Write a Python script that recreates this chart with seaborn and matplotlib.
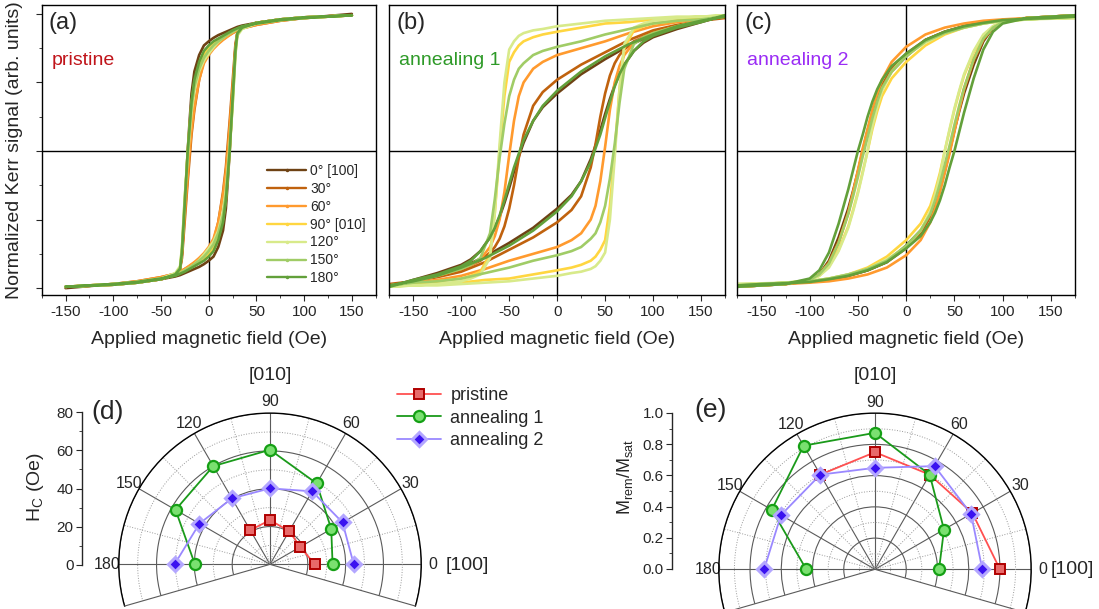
import numpy as np
import pandas as pd
import matplotlib
matplotlib.use("Agg")
import matplotlib.pyplot as plt
import seaborn as sns
from matplotlib.lines import Line2D
from matplotlib.ticker import MultipleLocator, FixedLocator

sns.set_style("ticks")
plt.rcParams["font.family"] = ["Liberation Sans", "DejaVu Sans"]
plt.rcParams["mathtext.fontset"] = "custom"
plt.rcParams["mathtext.rm"] = "Liberation Sans"
plt.rcParams["mathtext.it"] = "Liberation Sans:italic"
plt.rcParams["axes.unicode_minus"] = False

# in-plane angles of the Kerr loops
angle_labels = ["0° [100]", "30°", "60°", "90° [010]", "120°", "150°", "180°"]
loop_colors = ["#6e4214", "#c0620e", "#ff9a2e", "#ffd640", "#d8ea8a", "#a0cc66", "#62a03a"]

# rising branch of each loop (field in Oe, normalized Kerr signal); falling branch is the mirror
field_a = [-150, -100, -75, -50, -35, -30, -25, -20, -15, -10, -5, 0, 5, 10, 15, 18, 20, 22, 25, 28, 30, 35, 50, 75, 100, 150]
rise_a = [
    [-1.0, -0.97, -0.955, -0.935, -0.915, -0.905, -0.89, -0.875, -0.86, -0.845, -0.825, -0.80, -0.77, -0.70, -0.58, -0.42, -0.22, 0.0, 0.40, 0.75, 0.86, 0.90, 0.935, 0.96, 0.975, 0.99],
    [-0.99, -0.97, -0.95, -0.92, -0.895, -0.88, -0.86, -0.84, -0.815, -0.79, -0.755, -0.72, -0.66, -0.52, -0.30, -0.12, 0.05, 0.22, 0.50, 0.78, 0.86, 0.90, 0.935, 0.96, 0.975, 0.99],
    [-0.99, -0.97, -0.95, -0.92, -0.895, -0.88, -0.86, -0.835, -0.81, -0.78, -0.745, -0.70, -0.64, -0.52, -0.32, -0.15, 0.0, 0.18, 0.45, 0.75, 0.85, 0.90, 0.935, 0.96, 0.975, 0.99],
    [-0.99, -0.97, -0.955, -0.93, -0.905, -0.89, -0.875, -0.855, -0.83, -0.805, -0.78, -0.75, -0.70, -0.62, -0.50, -0.35, -0.18, 0.0, 0.35, 0.72, 0.86, 0.90, 0.935, 0.96, 0.975, 0.99],
    [-0.99, -0.97, -0.955, -0.93, -0.905, -0.89, -0.87, -0.85, -0.825, -0.795, -0.755, -0.71, -0.66, -0.58, -0.44, -0.28, -0.12, 0.05, 0.33, 0.70, 0.84, 0.89, 0.93, 0.96, 0.975, 0.99],
    [-0.99, -0.97, -0.955, -0.93, -0.905, -0.89, -0.87, -0.85, -0.825, -0.80, -0.77, -0.73, -0.68, -0.60, -0.47, -0.32, -0.16, 0.02, 0.33, 0.71, 0.85, 0.90, 0.935, 0.96, 0.975, 0.99],
    [-0.99, -0.97, -0.955, -0.93, -0.91, -0.895, -0.88, -0.86, -0.84, -0.82, -0.80, -0.77, -0.73, -0.65, -0.52, -0.36, -0.18, 0.0, 0.38, 0.74, 0.86, 0.90, 0.935, 0.96, 0.975, 0.99],
]

field_b = [-175, -150, -125, -100, -75, -50, -25, 0, 15, 25, 35, 40, 45, 50, 55, 60, 65, 70, 80, 90, 100, 125, 150, 175]
rise_b = [
    [-0.98, -0.95, -0.91, -0.85, -0.77, -0.67, -0.56, -0.42, -0.32, -0.22, -0.06, 0.04, 0.15, 0.27, 0.38, 0.48, 0.56, 0.63, 0.73, 0.79, 0.83, 0.89, 0.94, 0.99],
    [-0.97, -0.95, -0.92, -0.88, -0.81, -0.72, -0.63, -0.52, -0.43, -0.33, -0.12, 0.05, 0.25, 0.42, 0.55, 0.64, 0.70, 0.74, 0.80, 0.83, 0.86, 0.91, 0.95, 0.99],
    [-0.98, -0.96, -0.94, -0.91, -0.86, -0.80, -0.75, -0.70, -0.65, -0.60, -0.50, -0.40, -0.22, 0.03, 0.30, 0.50, 0.62, 0.70, 0.79, 0.83, 0.86, 0.91, 0.95, 0.99],
    [-0.99, -0.97, -0.97, -0.96, -0.94, -0.93, -0.90, -0.87, -0.85, -0.83, -0.80, -0.77, -0.72, -0.65, -0.40, 0.0, 0.45, 0.75, 0.88, 0.91, 0.93, 0.95, 0.97, 0.99],
    [-0.99, -0.98, -0.98, -0.97, -0.96, -0.95, -0.93, -0.91, -0.89, -0.88, -0.86, -0.84, -0.80, -0.74, -0.50, -0.05, 0.45, 0.78, 0.90, 0.93, 0.95, 0.97, 0.98, 0.99],
    [-0.98, -0.96, -0.95, -0.93, -0.89, -0.85, -0.80, -0.76, -0.73, -0.70, -0.64, -0.60, -0.52, -0.40, -0.20, 0.05, 0.35, 0.60, 0.78, 0.83, 0.86, 0.91, 0.95, 0.99],
    [-0.98, -0.95, -0.91, -0.85, -0.78, -0.69, -0.58, -0.44, -0.33, -0.22, -0.08, 0.02, 0.12, 0.24, 0.36, 0.47, 0.56, 0.63, 0.73, 0.80, 0.84, 0.90, 0.94, 0.99],
]

field_c = [-175, -150, -125, -100, -80, -60, -40, -20, 0, 15, 25, 30, 35, 40, 45, 50, 55, 60, 70, 80, 90, 100, 125, 150, 175]
rise_c = [
    [-0.98, -0.97, -0.965, -0.955, -0.94, -0.91, -0.87, -0.81, -0.69, -0.58, -0.47, -0.38, -0.27, -0.14, 0.0, 0.15, 0.29, 0.42, 0.63, 0.80, 0.90, 0.94, 0.97, 0.98, 0.99],
    [-0.98, -0.97, -0.965, -0.955, -0.94, -0.91, -0.87, -0.81, -0.71, -0.60, -0.48, -0.39, -0.28, -0.15, 0.0, 0.16, 0.31, 0.45, 0.66, 0.81, 0.90, 0.94, 0.97, 0.98, 0.99],
    [-0.98, -0.975, -0.97, -0.96, -0.95, -0.93, -0.90, -0.85, -0.76, -0.65, -0.52, -0.42, -0.30, -0.16, -0.02, 0.14, 0.30, 0.45, 0.67, 0.82, 0.90, 0.94, 0.97, 0.98, 0.99],
    [-0.98, -0.97, -0.96, -0.95, -0.93, -0.90, -0.85, -0.77, -0.65, -0.53, -0.40, -0.29, -0.16, 0.0, 0.15, 0.30, 0.43, 0.55, 0.72, 0.84, 0.91, 0.94, 0.97, 0.98, 0.99],
    [-0.97, -0.965, -0.96, -0.95, -0.93, -0.90, -0.86, -0.79, -0.70, -0.58, -0.44, -0.32, -0.18, 0.0, 0.16, 0.31, 0.44, 0.56, 0.73, 0.85, 0.91, 0.94, 0.96, 0.97, 0.97],
    [-0.98, -0.97, -0.96, -0.95, -0.93, -0.90, -0.86, -0.80, -0.69, -0.58, -0.46, -0.36, -0.24, -0.10, 0.04, 0.19, 0.33, 0.46, 0.67, 0.82, 0.90, 0.94, 0.97, 0.98, 0.99],
    [-0.98, -0.97, -0.965, -0.955, -0.935, -0.91, -0.87, -0.81, -0.71, -0.62, -0.52, -0.45, -0.36, -0.25, -0.12, 0.0, 0.14, 0.28, 0.53, 0.74, 0.87, 0.93, 0.97, 0.98, 0.99],
]

# angular dependence, angles in degrees
polar_angles = [0, 30, 60, 90, 120, 150, 180]
hc_pristine = [23.7, 18.5, 20.3, 23.4, 20.9]
hc_anneal1 = [33.1, 37.4, 49.4, 60.6, 60.0, 57.7, 39.7]
hc_anneal2 = [44.3, 44.3, 44.6, 40.2, 40.3, 43.1, 50.5]
mr_pristine = [0.80, 0.72, 0.70, 0.75, 0.70]
mr_anneal1 = [0.41, 0.51, 0.70, 0.874, 0.914, 0.763, 0.44]
mr_anneal2 = [0.687, 0.71, 0.763, 0.65, 0.70, 0.695, 0.71]


def loop_frame(field, rises):
    """Build closed loops: falling branch (mirror of rising) followed by the rising branch."""
    frames = []
    h = np.array(field, dtype=float)
    for lab, m in zip(angle_labels, rises):
        m = np.array(m, dtype=float)
        frames.append(pd.DataFrame({"H": np.concatenate([-h, h]),
                                    "M": np.concatenate([-m, m]),
                                    "angle": lab}))
    return pd.concat(frames, ignore_index=True)


W, H = 1099, 609
fig = plt.figure(figsize=(W / 100, H / 100), dpi=100)

loop_axes = [
    fig.add_axes([41.7 / W, 1 - 295 / H, 334 / W, 290 / H]),
    fig.add_axes([389.3 / W, 1 - 295 / H, 335.7 / W, 290 / H]),
    fig.add_axes([737.3 / W, 1 - 295 / H, 337.7 / W, 290 / H]),
]
loop_data = [(field_a, rise_a), (field_b, rise_b), (field_c, rise_c)]
tags = ["(a)", "(b)", "(c)"]
names = [("pristine", "#c0141a"), ("annealing 1", "#2e9a28"), ("annealing 2", "#9a2cf5")]

for ax, (fld, rises), tag, (name, ncol) in zip(loop_axes, loop_data, tags, names):
    df = loop_frame(fld, rises)
    sns.lineplot(data=df, x="H", y="M", hue="angle", hue_order=angle_labels,
                 palette=loop_colors, sort=False, estimator=None, lw=1.9,
                 legend=False, ax=ax)
    ax.axhline(0, color="black", lw=1.0, zorder=0)
    ax.axvline(0, color="black", lw=1.0, zorder=0)
    ax.set_xlim(-175, 175)
    ax.set_ylim(-1.05, 1.065)
    ax.set_xticks([-150, -100, -50, 0, 50, 100, 150])
    ax.xaxis.set_minor_locator(MultipleLocator(25))
    ax.tick_params(axis="x", which="major", labelsize=11, length=4, direction="out")
    ax.tick_params(axis="x", which="minor", length=2.5, direction="out")
    ax.set_xlabel("Applied magnetic field (Oe)", fontsize=14, labelpad=8)
    ax.set_ylabel("")
    for sp in ax.spines.values():
        sp.set_linewidth(1.0)
        sp.set_color("black")
    ax.text(0.02, 0.975, tag, transform=ax.transAxes, fontsize=17, va="top", ha="left")
    ax.text(0.03, 0.81, name, transform=ax.transAxes, fontsize=14, color=ncol, va="center", ha="left")

ax_a = loop_axes[0]
ax_a.set_yticks([-1, -0.5, 0, 0.5, 1])
ax_a.yaxis.set_minor_locator(MultipleLocator(0.25))
ax_a.set_yticklabels([])
ax_a.tick_params(axis="y", which="major", length=4, direction="out")
ax_a.tick_params(axis="y", which="minor", length=2.5, direction="out")
ax_a.set_ylabel("Normalized Kerr signal (arb. units)", fontsize=14, labelpad=6)
for ax in loop_axes[1:]:
    ax.set_yticks([])

handles = [Line2D([], [], color=c, lw=1.7, marker=".", ms=3) for c in loop_colors]
ax_a.legend(handles, angle_labels, loc="lower right", bbox_to_anchor=(1.0, 0.0),
            frameon=False, fontsize=10, handlelength=2.8, handletextpad=0.3,
            labelspacing=0.28, borderaxespad=0.3)

# polar panels
theta_major = np.deg2rad([0, 30, 60, 90, 120, 150, 180])
theta_minor = np.deg2rad([15, 45, 75, 105, 135, 165])
lift = (1 - np.sin(np.deg2rad(16))) / 2   # wedge bbox centre above the pole, in radii

series_style = {
    "pristine": dict(color="#ff5050", marker="s", ms=6.5, mfc="#e86a6a", mec="#b00000", mew=1.4),
    "annealing 1": dict(color="#1a9a1a", marker="o", ms=8, mfc="#7ae070", mec="#15a015", mew=1.6),
    "annealing 2": dict(color="#9a88ff", marker="D", ms=7, mfc="#3a12f0", mec="#b3a6ff", mew=2.2),
}


def polar_panel(cx, cy, R, rmax, rmajor, rminor, series):
    # square box: matplotlib pads a partial wedge's bbox to a square around its centre
    yc = cy - lift * R
    pax = fig.add_axes([(cx - R) / W, 1 - (yc + R) / H, 2 * R / W, 2 * R / H],
                       projection="polar")
    pax.set_thetamin(-16)
    pax.set_thetamax(196)
    pax.set_ylim(0, rmax)
    pax.set_yticks(rmajor)
    pax.set_yticklabels([])
    pax.yaxis.set_minor_locator(FixedLocator(rminor))
    pax.set_xticks(theta_major)
    pax.set_xticklabels(["0", "30", "60", "90", "120", "150", "180"])
    pax.xaxis.set_minor_locator(FixedLocator(theta_minor))
    pax.grid(which="major", color="#5a5a5a", lw=0.8, ls="-")
    pax.grid(which="minor", color="#9a9a9a", lw=0.7, ls=":")
    pax.tick_params(axis="x", which="both", labelsize=11.5, pad=1, length=0)
    pax.tick_params(axis="y", which="both", length=0)
    for key, sp in pax.spines.items():
        sp.set_color("black" if key == "polar" else "#5a5a5a")
        sp.set_linewidth(1.0 if key == "polar" else 0.8)
    for name, vals in series:
        st = series_style[name]
        sns.lineplot(x=np.deg2rad(polar_angles[:len(vals)]), y=vals, sort=False,
                     estimator=None, lw=1.3, ax=pax, label=name, legend=False,
                     color=st["color"], marker=st["marker"], markersize=st["ms"],
                     markerfacecolor=st["mfc"], markeredgecolor=st["mec"],
                     markeredgewidth=st["mew"], zorder=5, clip_on=False)
    pax.set_xlabel("")
    pax.set_ylabel("")
    return pax


ax_d = polar_panel(270, 565, 153, 80, [20, 40, 60, 80], [10, 30, 50, 70],
                   [("pristine", hc_pristine), ("annealing 1", hc_anneal1), ("annealing 2", hc_anneal2)])
ax_e = polar_panel(875, 570, 158, 1.0, [0.2, 0.4, 0.6, 0.8, 1.0], [0.1, 0.3, 0.5, 0.7, 0.9],
                   [("pristine", mr_pristine), ("annealing 1", mr_anneal1), ("annealing 2", mr_anneal2)])


def side_scale(x, y0, y1, lim, major, minor, fmt):
    sax = fig.add_axes([x / W, 1 - y0 / H, 0.004, (y0 - y1) / H])
    sax.set_ylim(*lim)
    sax.yaxis.set_major_locator(MultipleLocator(major))
    sax.yaxis.set_minor_locator(MultipleLocator(minor))
    sax.yaxis.set_major_formatter(fmt)
    sax.set_xticks([])
    for k in ["top", "right", "bottom"]:
        sax.spines[k].set_visible(False)
    sax.spines["left"].set_linewidth(1.0)
    sax.tick_params(axis="y", which="major", length=4, direction="out", labelsize=11, pad=2)
    sax.tick_params(axis="y", which="minor", length=2.5, direction="out")
    sax.patch.set_visible(False)
    return sax


side_scale(82, 565, 412, (0, 80), 20, 10, "{x:.0f}")
side_scale(672, 569, 413, (0, 1.0), 0.2, 0.1, "{x:.1f}")

fig.text(35 / W, 1 - 487 / H, r"H$_{\rm C}$ (Oe)", rotation=90, fontsize=14, ha="center", va="center")
fig.text(625 / W, 1 - 477 / H, r"M$_{\rm rem}$/M$_{\rm sat}$", rotation=90, fontsize=13, ha="center", va="center")
fig.text(91 / W, 1 - 412 / H, "(d)", fontsize=19, ha="left", va="center")
fig.text(694 / W, 1 - 410 / H, "(e)", fontsize=19, ha="left", va="center")
fig.text(270 / W, 1 - 376 / H, "[010]", fontsize=14, ha="center", va="center")
fig.text(875 / W, 1 - 376 / H, "[010]", fontsize=14, ha="center", va="center")
fig.text(446 / W, 1 - 565 / H, "[100]", fontsize=14, ha="left", va="center")
fig.text(1051 / W, 1 - 570 / H, "[100]", fontsize=14, ha="left", va="center")

leg_handles = [Line2D([], [], lw=1.3, color=st["color"], marker=st["marker"], markersize=st["ms"],
                      markerfacecolor=st["mfc"], markeredgecolor=st["mec"], markeredgewidth=st["mew"])
               for st in series_style.values()]
fig.legend(leg_handles, list(series_style.keys()), loc="upper left",
           bbox_to_anchor=(390 / W, 1 - 380 / H), frameon=False, fontsize=13,
           handlelength=2.4, handletextpad=0.55, labelspacing=0.3, borderaxespad=0)

fig.savefig("out.png", dpi=100)
